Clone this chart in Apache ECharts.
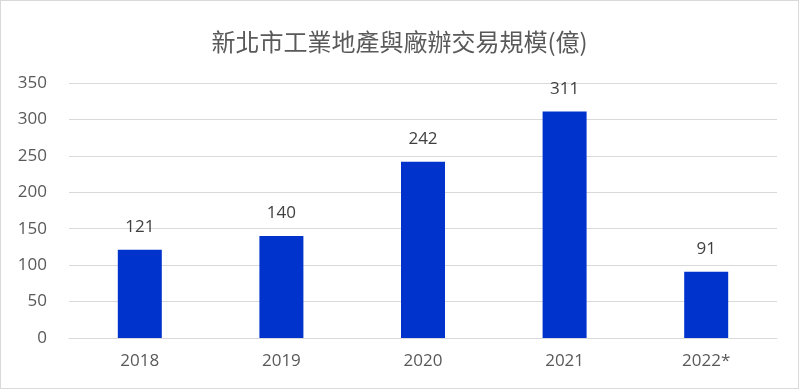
<!DOCTYPE html>
<html><head><meta charset="utf-8">
<script src="https://cdn.jsdelivr.net/npm/echarts@6/dist/echarts.min.js"></script>
<style>html,body{margin:0;padding:0;background:#fff}#c{width:797px;height:387px;border:1px solid #d9d9d9}</style>
</head><body><div id="c"></div>
<script>
const categories = ['2018','2019','2020','2021','2022*'];
const values = [121,140,242,311,91];
const titleText = '新北市工業地產與廠辦交易規模(億)';
const chart = echarts.init(document.getElementById('c'));
chart.setOption({
  animation:false,
  title:{text:titleText,left:'center',top:24,textStyle:{fontFamily:'Noto Sans CJK TC',fontSize:24,fontWeight:'normal',color:'#595959'}},
  grid:{left:68,right:21,top:82,bottom:50},
  xAxis:{type:'category',data:categories,axisLine:{lineStyle:{color:'#d9d9d9'}},axisTick:{show:false},
    axisLabel:{color:'#595959',fontSize:17,fontFamily:'Open Sans, Noto Sans',margin:15}},
  yAxis:{type:'value',min:0,max:350,interval:50,axisLine:{show:false},axisTick:{show:false},
    splitLine:{lineStyle:{color:'#d9d9d9'}},
    axisLabel:{color:'#595959',fontSize:17,fontFamily:'Open Sans, Noto Sans',margin:22}},
  series:[{type:'bar',data:values,barWidth:44,itemStyle:{color:'#0033cc'},
    label:{show:true,position:'top',distance:14,color:'#404040',fontSize:17,fontFamily:'Open Sans, Noto Sans'}}]
});
</script></body></html>
